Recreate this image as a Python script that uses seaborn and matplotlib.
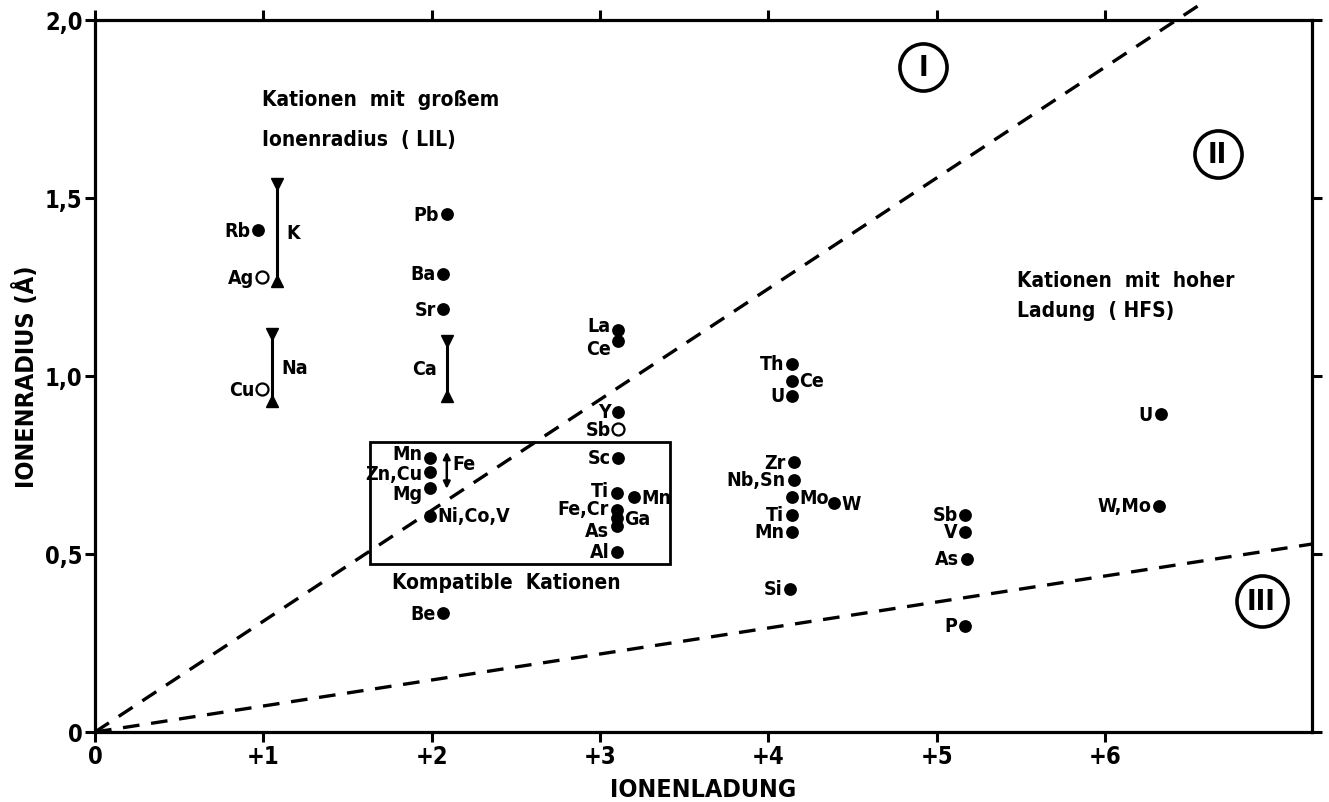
import matplotlib
matplotlib.use("Agg")
import matplotlib.pyplot as plt
from matplotlib import font_manager
from matplotlib.patches import Rectangle
import seaborn as sns
import pandas as pd

# ---------------- data ----------------
# filled points: label, charge (x), radius (y)
fill_labels = ["Rb", "Pb", "Ba", "Sr", "La", "Ce", "Y", "Sc", "Ti", "Mn", "Fe,Cr", "Ga", "As", "Al",
               "Mn", "Zn,Cu", "Mg", "Ni,Co,V", "Be",
               "Th", "Ce", "U", "Zr", "Nb,Sn", "Mo", "W", "Ti", "Mn", "Si",
               "U", "W,Mo", "Sb", "V", "As", "P"]
fill_x = [0.97, 2.09, 2.07, 2.07, 3.11, 3.11, 3.11, 3.11, 3.10, 3.20, 3.10, 3.10, 3.10, 3.10,
          1.99, 1.99, 1.99, 1.99, 2.07,
          4.14, 4.14, 4.14, 4.15, 4.15, 4.14, 4.39, 4.14, 4.14, 4.13,
          6.33, 6.32, 5.17, 5.17, 5.18, 5.17]
fill_y = [1.41, 1.455, 1.287, 1.188, 1.129, 1.098, 0.899, 0.770, 0.671, 0.660, 0.624, 0.601, 0.579, 0.506,
          0.770, 0.730, 0.685, 0.607, 0.334,
          1.034, 0.986, 0.944, 0.758, 0.708, 0.660, 0.643, 0.610, 0.562, 0.402,
          0.893, 0.635, 0.610, 0.562, 0.486, 0.298]
# label side: "L" left of dot, "R" right of dot
fill_side = ["L", "L", "L", "L", "L", "L", "L", "L", "L", "R", "L", "R", "L", "L",
             "L", "L", "L", "R", "L",
             "L", "R", "L", "L", "L", "R", "R", "L", "L", "L",
             "L", "L", "L", "L", "L", "L"]
# small vertical label nudges (points) where labels are stacked tightly
fill_dy = [0, 0, 0, 0, 3.5, -5, 0, 0, 2, 0, 1, 0, -3.5, 0,
           3.5, -1, -3.5, 0, 0,
           0, 0, 0, 0, 0, 0, 0, 0, 0, 0,
           0, 0, 0, 0, 0, 0]

# open points
open_labels = ["Ag", "Cu", "Sb"]
open_x = [0.99, 0.99, 3.11]
open_y = [1.278, 0.963, 0.851]

# range bars (K, Na, Ca)
bar_labels = ["K", "Na", "Ca"]
bar_x = [1.08, 1.05, 2.09]
bar_lo = [1.267, 0.930, 0.944]
bar_hi = [1.539, 1.118, 1.098]
bar_side = ["R", "R", "L"]

# Fe arrow (range)
fe_x = 2.09
fe_lo = 0.683
fe_hi = 0.787

# dividing lines (through origin)
line1_x = [0.0, 6.57]
line1_y = [0.0, 2.045]
line2_x = [0.0, 7.23]
line2_y = [0.0, 0.528]

# compatible cations box
box_x = [1.634, 3.417]
box_y = [0.472, 0.815]

# field numerals
num_labels = ["I", "II", "III"]
num_x = [4.92, 6.67, 6.93]
num_y = [1.868, 1.624, 0.368]

x_ticks = [0, 1, 2, 3, 4, 5, 6]
x_ticklabels = ["0", "+1", "+2", "+3", "+4", "+5", "+6"]
y_ticks = [0, 0.5, 1.0, 1.5, 2.0]
y_ticklabels = ["0", "0,5", "1,0", "1,5", "2,0"]

# ---------------- style ----------------
sns.set_theme(style="white")
names = {f.name for f in font_manager.fontManager.ttflist}
if "Liberation Sans Narrow" in names:
    FAM = ["Liberation Sans Narrow", "DejaVu Sans"]
    STR = "normal"
else:
    FAM = ["DejaVu Sans"]
    STR = "condensed"
plt.rcParams["font.family"] = FAM
plt.rcParams["font.weight"] = "bold"
plt.rcParams["font.stretch"] = STR
for k in ["text.color", "axes.labelcolor", "xtick.color", "ytick.color", "axes.edgecolor"]:
    plt.rcParams[k] = "black"

fig = plt.figure(figsize=(13.29, 8.03), dpi=100)
W, H = 1329, 803
ax = fig.add_axes([95 / W, 70 / H, (1312 - 95) / W, (733 - 21) / H])

df_f = pd.DataFrame({"x": fill_x, "y": fill_y})
df_o = pd.DataFrame({"x": open_x, "y": open_y})
sns.scatterplot(data=df_f, x="x", y="y", ax=ax, s=85, color="black", edgecolor="black", linewidth=0, zorder=4)
sns.scatterplot(data=df_o, x="x", y="y", ax=ax, s=75, facecolor="white", edgecolor="black", linewidth=1.6, zorder=4)

ax.set_xlim(0, 7.23)
ax.set_ylim(0, 2.0)

LBL = dict(fontsize=14, fontweight="bold", color="black", zorder=5)

for lab, x, y, side, dy in zip(fill_labels, fill_x, fill_y, fill_side, fill_dy):
    if side == "L":
        ax.annotate(lab, (x, y), xytext=(-5.5, dy), textcoords="offset points", ha="right", va="center", **LBL)
    else:
        ax.annotate(lab, (x, y), xytext=(5.5, dy), textcoords="offset points", ha="left", va="center", **LBL)
for lab, x, y in zip(open_labels, open_x, open_y):
    ax.annotate(lab, (x, y), xytext=(-5.5, 0), textcoords="offset points", ha="right", va="center", **LBL)

# range bars
for lab, x, lo, hi, side in zip(bar_labels, bar_x, bar_lo, bar_hi, bar_side):
    ax.plot([x, x], [lo, hi], color="black", lw=2.2, zorder=3)
    ax.plot([x], [hi], marker="v", color="black", markersize=9, zorder=3)
    ax.plot([x], [lo], marker="^", color="black", markersize=9, zorder=3)
    mid = (lo + hi) / 2
    if side == "R":
        ax.annotate(lab, (x, mid), xytext=(7, 0), textcoords="offset points", ha="left", va="center", **LBL)
    else:
        ax.annotate(lab, (x, mid), xytext=(-7, 0), textcoords="offset points", ha="right", va="center", **LBL)

# Fe arrow
ax.annotate("", xy=(fe_x, fe_hi), xytext=(fe_x, fe_lo),
            arrowprops=dict(arrowstyle="<|-|>", color="black", lw=1.8, mutation_scale=10, shrinkA=0, shrinkB=0))
ax.annotate("Fe", (fe_x, (fe_lo + fe_hi) / 2 + 0.02), xytext=(4, 0), textcoords="offset points",
            ha="left", va="center", **LBL)

# dashed lines
ax.plot(line1_x, line1_y, color="black", lw=2.4, ls=(0, (5, 3.5)), clip_on=False, zorder=2)
ax.plot(line2_x, line2_y, color="black", lw=2.4, ls=(0, (5, 3.5)), zorder=2)

# box
ax.add_patch(Rectangle((box_x[0], box_y[0]), box_x[1] - box_x[0], box_y[1] - box_y[0],
                       fill=False, ec="black", lw=2.0, zorder=3))
ax.text(box_x[0] + 0.13, box_y[0] - 0.051, "Kompatible  Kationen", ha="left", va="center", fontsize=15)

# numerals
for lab, x, y in zip(num_labels, num_x, num_y):
    sz = 1150 if lab != "III" else 1350
    ax.scatter([x], [y], s=sz, facecolors="white", edgecolors="black", linewidths=2.6, zorder=4)
    ax.text(x, y, lab, ha="center", va="center", fontsize=21, fontweight="bold", zorder=5)

# annotations
ax.text(0.99, 1.778, "Kationen  mit  großem", ha="left", va="center", fontsize=15)
ax.text(0.99, 1.666, "Ionenradius  ( LIL)", ha="left", va="center", fontsize=15)
ax.text(5.48, 1.270, "Kationen  mit  hoher", ha="left", va="center", fontsize=15)
ax.text(5.48, 1.185, "Ladung  ( HFS)", ha="left", va="center", fontsize=15)

# axes styling
for s in ax.spines.values():
    s.set_visible(True)
    s.set_color("black")
    s.set_linewidth(2.3)
ax.set_xticks(x_ticks)
ax.set_xticklabels(x_ticklabels, fontsize=17, fontweight="bold")
ax.set_yticks(y_ticks)
ax.set_yticklabels(y_ticklabels, fontsize=17, fontweight="bold")
ax.tick_params(axis="both", which="both", direction="out", length=7, width=2.2, color="black",
               bottom=True, left=True, top=True, right=True,
               labelbottom=True, labelleft=True, labeltop=False, labelright=False, pad=2)
ax.set_xlabel("IONENLADUNG", fontsize=18, fontweight="bold", labelpad=6)
ax.set_ylabel("IONENRADIUS (Å)", fontsize=18, fontweight="bold")
ax.yaxis.set_label_coords(-0.046, 0.5)
ax.grid(False)

fig.savefig("out.png", dpi=100, facecolor="white")
